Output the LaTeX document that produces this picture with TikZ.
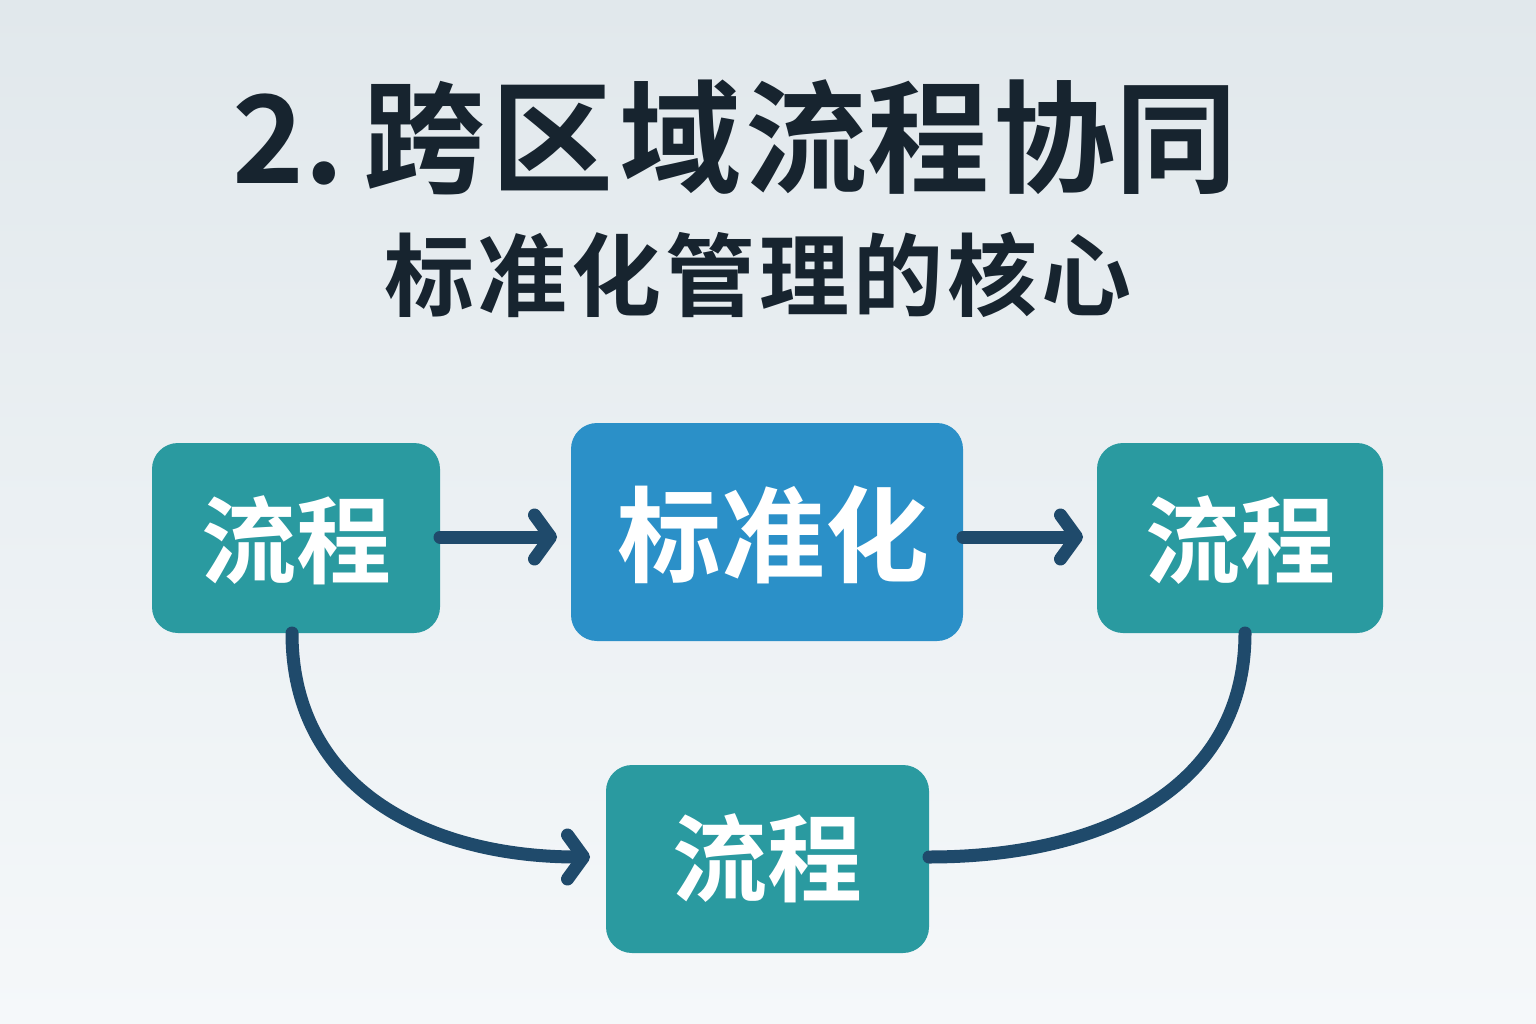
\documentclass[tikz,border=0pt]{standalone}
\usepackage{fontspec}
\newfontfamily\cjk{Noto Sans CJK SC Bold}
\usetikzlibrary{arrows.meta}
\definecolor{teal1}{HTML}{2A9AA0}
\definecolor{blue1}{HTML}{2B90C8}
\definecolor{navy}{HTML}{1F4A6B}
\definecolor{ink}{HTML}{17242F}
\definecolor{bgtop}{HTML}{E1E8EC}
\definecolor{bgbot}{HTML}{F5F8FA}
\tikzset{
 box/.style={rounded corners=26pt, inner sep=0pt, text=white, font=\cjk\fontsize{95}{95}\selectfont},
 conn/.style={draw=navy, line width=13pt, line cap=round},
 tip/.style={-{Straight Barb[length=16pt,width=44pt,line width=13pt,line cap=round,round]}}
}
\begin{document}
\begin{tikzpicture}[x=1pt,y=-1pt]
\shade[top color=bgtop,bottom color=bgbot] (0,0) rectangle (1536,1024);
\useasboundingbox (0,0) rectangle (1536,1024);
\node[font=\cjk\fontsize{122}{122}\selectfont, text=ink] (t) at (735,137) {2.\,跨\kern6pt区\kern6pt域\kern4pt流程\kern4pt协同};
\node[font=\cjk\fontsize{90}{90}\selectfont, text=ink] (s) at (758,275) {标\kern4pt准\kern4pt化\kern4pt管\kern4pt理\kern4pt的\kern4pt核\kern4pt心};
\fill[teal1, rounded corners=26pt] (152,443) rectangle (440,633);
\node[box] (A) at (296,540) {流程};
\coordinate (Ar) at (440,537); \coordinate (Ab) at (292,633);
\fill[blue1, rounded corners=26pt] (571,423) rectangle (963,641);
\node[box, font=\cjk\fontsize{104}{104}\selectfont] (B) at (773,535) {标准化};
\coordinate (Bl) at (571,537); \coordinate (Br) at (963,537);
\fill[teal1, rounded corners=26pt] (1097,443) rectangle (1383,633);
\node[box] (C) at (1240,540) {流程};
\coordinate (Cl) at (1097,537); \coordinate (Cb) at (1245,633);
\fill[teal1, rounded corners=26pt] (606,765) rectangle (929,953);
\node[box] (D) at (767,858) {流程};
\coordinate (Dl) at (606,857); \coordinate (Dr) at (929,857);
\draw[conn,tip] (Ar) -- ([xshift=-14pt]Bl);
\draw[conn,tip] (Br) -- ([xshift=-14pt]Cl);
\draw[conn,tip] (Ab) .. controls (292,790) and (430,857) .. ([xshift=-16pt]Dl);
\draw[conn] (Cb) .. controls (1245,790) and (1100,857) .. (Dr);
\end{tikzpicture}
\end{document}
